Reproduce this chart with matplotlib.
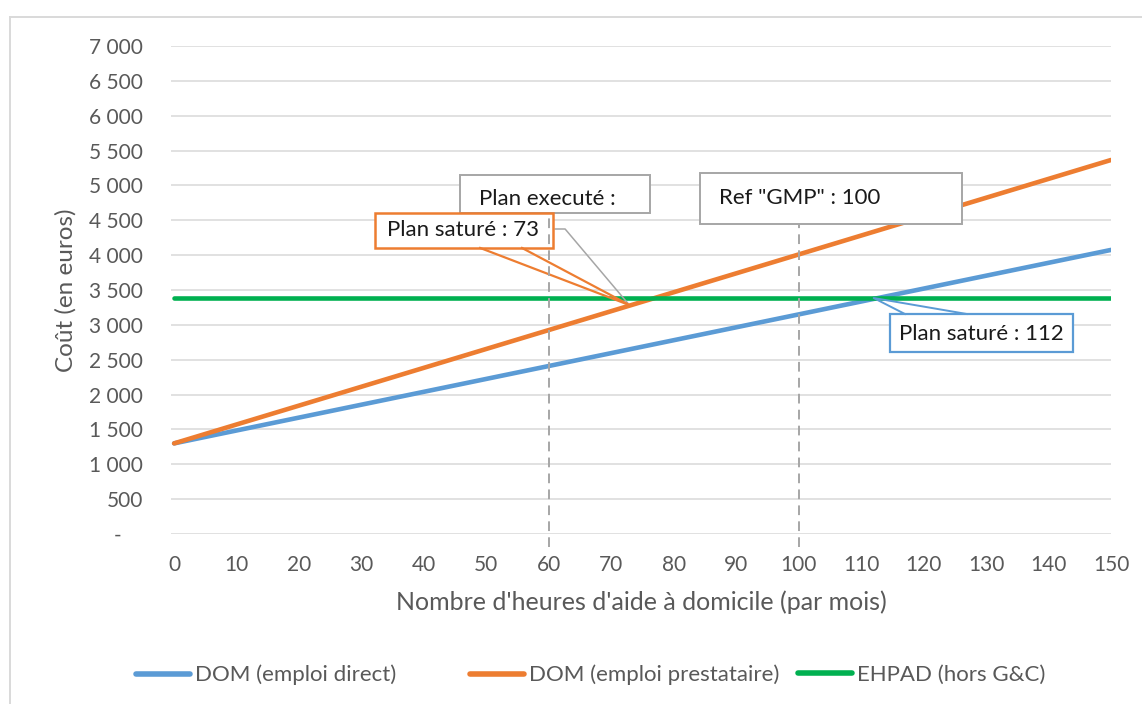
import matplotlib
matplotlib.use('Agg')
import matplotlib.pyplot as plt
from matplotlib.lines import Line2D
from matplotlib.patches import Rectangle
from matplotlib.ticker import FuncFormatter

plt.rcParams['font.family'] = ['Lato', 'DejaVu Sans']

# heures d'aide par mois et couts associes (euros)
heures = [0, 150]
dom_direct = [1300, 4075]
dom_prestataire = [1300, 5365]
ehpad = [3385, 3385]

noms = ['DOM (emploi direct)', 'DOM (emploi prestataire)', 'EHPAD (hors G&C)']
couleurs = ['#5B9BD5', '#ED7D31', '#00B050']

# reperes
ref_plan_execute = 60
ref_gmp = 100
sature_prestataire = 73
sature_direct = 112
cout_sature_prestataire = 3280

gris = '#A6A6A6'
texte = '#595959'
noir = '#1a1a1a'

fig = plt.figure(figsize=(11.42, 7.04), dpi=100)
ax = fig.add_axes([171/1142, 1 - 534/704, (1111 - 171)/1142, (534 - 46)/704])

lignes = []
for y, nom, c in zip([dom_direct, dom_prestataire, ehpad], noms, couleurs):
    l, = ax.plot(heures, y, color=c, lw=3.3, solid_capstyle='round', label=nom, zorder=4)
    lignes.append(l)

ax.set_xlim(-0.5, 150)
ax.set_ylim(0, 7000)
ax.set_xticks(range(0, 151, 10))
ax.set_yticks(range(0, 7001, 500))

def fmt(v, pos):
    if v == 0:
        return '-    '
    return '{:,.0f}'.format(v).replace(',', ' ')

ax.yaxis.set_major_formatter(FuncFormatter(fmt))
ax.tick_params(axis='both', length=0, labelsize=15, colors=texte)
ax.tick_params(axis='y', pad=20)
ax.tick_params(axis='x', pad=15)
ax.grid(axis='y', color='#D9D9D9', lw=1.1)
ax.set_axisbelow(True)
for s in ax.spines.values():
    s.set_visible(False)

ax.set_ylabel('Coût (en euros)', fontsize=17.5, color=texte, labelpad=9)
ax.set_xlabel("Nombre d'heures d'aide à domicile (par mois)", fontsize=18, color=texte, labelpad=11)

# traits verticaux en pointilles
tirets = (0, (5, 3.2))
ax.plot([ref_plan_execute, ref_plan_execute], [-190, 4560], ls=tirets, color=gris, lw=1.4,
        clip_on=False, zorder=6)
ax.plot([ref_gmp, ref_gmp], [-190, 4447], ls=tirets, color=gris, lw=1.4,
        clip_on=False, zorder=6)

def boite(x0, x1, y0, y1, ec, lw, z):
    ax.add_patch(Rectangle((x0, y0), x1 - x0, y1 - y0, fc='white', ec=ec, lw=lw, zorder=z))

# Plan execute
boite(45.8, 76.2, 4605, 5150, gris, 1.4, 5)
ax.text(59.7, 4810, 'Plan executé :', ha='center', va='center', fontsize=16, color=noir, zorder=7)
ax.plot([61.0, 62.6, sature_prestataire - 0.4], [4375, 4375, 3314], color=gris, lw=1.1, zorder=5)

# Plan sature 73
boite(32.2, 60.7, 4103, 4605, couleurs[1], 1.8, 5.5)
ax.text(46.3, 4354, 'Plan saturé : 73', ha='center', va='center', fontsize=16, color=noir, zorder=7)
ax.plot([49.0, sature_prestataire, 55.7], [4103, cout_sature_prestataire, 4103],
        color=couleurs[1], lw=1.6, zorder=5.5)

# Ref GMP
boite(84.2, 126.1, 4447, 5178, gris, 1.4, 5)
ax.text(100.2, 4820, 'Ref "GMP" : 100', ha='center', va='center', fontsize=16, color=noir, zorder=7)

# Plan sature 112
boite(114.6, 143.9, 2611, 3156, couleurs[0], 1.6, 5)
ax.text(129.3, 2875, 'Plan saturé : 112', ha='center', va='center', fontsize=16, color=noir, zorder=7)
ax.plot([117.0, sature_direct, 126.9], [3156, ehpad[0], 3156], color=couleurs[0], lw=1.4, zorder=5)

# legende : une entree par colonne de largeur fixe
for l, x0 in zip(lignes, [136, 470, 798]):
    leg = fig.legend(handles=[l], loc='center left', bbox_to_anchor=(x0/1142, 1 - 675/704),
                     frameon=False, fontsize=16, handlelength=2.45, handletextpad=0.2,
                     borderpad=0, borderaxespad=0)
    for t in leg.get_texts():
        t.set_color(texte)
    for h in leg.legend_handles:
        h.set_linewidth(4)
        h.set_solid_capstyle('round')

# cadre du graphique
fig.add_artist(Line2D([10/1142, 1], [1 - 17/704, 1 - 17/704], color='#D9D9D9', lw=1.4))
fig.add_artist(Line2D([10/1142, 10/1142], [0, 1 - 17/704], color='#D9D9D9', lw=1.4))

plt.savefig('out.png', dpi=100)
